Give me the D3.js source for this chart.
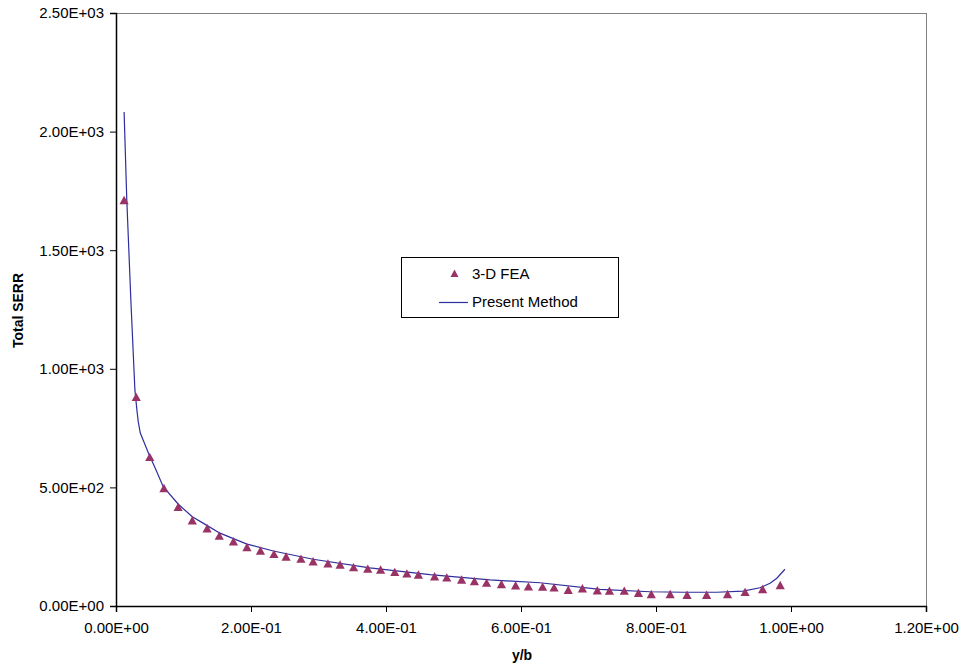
<!DOCTYPE html>
<html>
<head>
<meta charset="utf-8">
<script src="https://cdn.jsdelivr.net/npm/d3@7/dist/d3.min.js"></script>
<style>
  html, body { margin: 0; padding: 0; background: #fff; }
  svg { display: block; font-family: "Liberation Sans", Arial, sans-serif; }
</style>
</head>
<body>
<svg id="chart" width="963" height="670"></svg>
<script>
// 3-D FEA results (normalised position y/b, total SERR)
const feaX = [0.012, 0.030, 0.050, 0.071, 0.092, 0.113, 0.135, 0.153, 0.174, 0.194,
              0.214, 0.234, 0.252, 0.274, 0.292, 0.314, 0.332, 0.352, 0.373, 0.392,
              0.413, 0.431, 0.448, 0.472, 0.490, 0.512, 0.531, 0.549, 0.571, 0.592,
              0.611, 0.632, 0.649, 0.670, 0.691, 0.713, 0.731, 0.753, 0.774, 0.793,
              0.821, 0.846, 0.875, 0.906, 0.932, 0.958, 0.984];
const feaY = [1710, 880, 627, 496, 416, 360, 326, 295, 271, 247,
              232, 218, 207, 198, 187, 178, 173, 162, 156, 152,
              142, 136, 131, 124, 119, 110, 104, 97, 91, 86,
              81, 80, 77, 67, 73, 65, 63, 63, 54, 49,
              49, 46, 46, 49, 58, 70, 87];

// Present method curve
const methodX = [0.012, 0.016, 0.022, 0.028, 0.031, 0.033, 0.036, 0.042, 0.048, 0.058,
                 0.070, 0.092, 0.113, 0.134, 0.154, 0.194, 0.233, 0.292, 0.376, 0.465,
                 0.554, 0.628, 0.717, 0.791, 0.840, 0.890, 0.929, 0.954, 0.969, 0.979, 0.991];
const methodY = [2083, 1712, 1290, 911, 826, 776, 729, 687, 645, 582,
                 503, 430, 376, 341, 307, 261, 232, 197, 161, 132,
                 110, 98, 70, 60, 58, 58, 63, 77, 96, 117, 155];

const xTicks = [0, 0.2, 0.4, 0.6, 0.8, 1.0, 1.2];
const yTicks = [0, 500, 1000, 1500, 2000, 2500];

const seriesNames = ["3-D FEA", "Present Method"];
const xTitle = "y/b";
const yTitle = "Total SERR";

// Excel-style scientific notation, e.g. 2.50E+03, 2.00E-01
function sci(v) {
  if (v === 0) return "0.00E+00";
  const e = Math.floor(Math.log10(Math.abs(v)));
  const m = v / Math.pow(10, e);
  const sign = e < 0 ? "-" : "+";
  const ea = String(Math.abs(e)).padStart(2, "0");
  return m.toFixed(2) + "E" + sign + ea;
}

const svg = d3.select("#chart");
const plot = { left: 116, top: 13, right: 926, bottom: 606 };

const x = d3.scaleLinear().domain([0, 1.2]).range([plot.left, plot.right]);
const y = d3.scaleLinear().domain([0, 2500]).range([plot.bottom, plot.top]);

const fontSize = 15;

// frame: grey top and right edges
svg.append("line").attr("x1", plot.left).attr("x2", plot.right)
  .attr("y1", plot.top + 0.5).attr("y2", plot.top + 0.5)
  .attr("stroke", "#808080").attr("stroke-width", 1);
svg.append("line").attr("x1", plot.right + 0.5).attr("x2", plot.right + 0.5)
  .attr("y1", plot.top).attr("y2", plot.bottom)
  .attr("stroke", "#808080").attr("stroke-width", 1);

// y axis
const yAxis = d3.axisLeft(y).tickValues(yTicks).tickFormat(sci).tickSize(6).tickPadding(6);
const gy = svg.append("g").attr("transform", `translate(${plot.left},0)`).call(yAxis);
gy.select(".domain").attr("stroke", "#000").attr("stroke-width", 1.5);
gy.selectAll(".tick line").attr("stroke", "#000");
gy.selectAll(".tick text").attr("font-size", fontSize)
  .attr("font-family", "Liberation Sans, Arial, sans-serif").attr("fill", "#000");

// x axis
const xAxis = d3.axisBottom(x).tickValues(xTicks).tickFormat(sci).tickSize(6).tickPadding(10);
const gx = svg.append("g").attr("transform", `translate(0,${plot.bottom})`).call(xAxis);
gx.select(".domain").attr("stroke", "#000").attr("stroke-width", 1.5);
gx.selectAll(".tick line").attr("stroke", "#000");
gx.selectAll(".tick text").attr("font-size", fontSize)
  .attr("font-family", "Liberation Sans, Arial, sans-serif").attr("fill", "#000");

// axis titles
svg.append("text").attr("x", (plot.left + plot.right) / 2 + 1).attr("y", 660)
  .attr("text-anchor", "middle").attr("font-size", 14).attr("font-weight", "bold")
  .text(xTitle);
svg.append("text")
  .attr("transform", `translate(23,${(plot.top + plot.bottom) / 2 + 1}) rotate(-90)`)
  .attr("text-anchor", "middle").attr("font-size", 14).attr("font-weight", "bold")
  .text(yTitle);

// present method curve
const lineGen = d3.line().x(d => x(d[0])).y(d => y(d[1]));
svg.append("path")
  .datum(d3.zip(methodX, methodY))
  .attr("d", lineGen)
  .attr("fill", "none")
  .attr("stroke", "#2e2e9e")
  .attr("stroke-width", 1.2);

// FEA triangles
const tri = "M0,-4.6L4.6,3.8L-4.6,3.8Z";
const fea = d3.zip(feaX, feaY);
svg.append("g").selectAll("path")
  .data(fea).join("path")
  .attr("d", tri)
  .attr("transform", d => `translate(${x(d[0])},${y(d[1])})`)
  .attr("fill", "#993366");

// legend
const lg = svg.append("g");
lg.append("rect").attr("x", 401.5).attr("y", 257.5).attr("width", 217).attr("height", 60)
  .attr("fill", "#fff").attr("stroke", "#000").attr("stroke-width", 1);
lg.append("path").attr("d", "M0,-4L4,3.5L-4,3.5Z")
  .attr("transform", "translate(454.5,273.5)").attr("fill", "#993366");
lg.append("text").attr("x", 472).attr("y", 273.5).attr("dy", "0.35em")
  .attr("font-size", fontSize).text(seriesNames[0]);
lg.append("line").attr("x1", 439).attr("x2", 468).attr("y1", 302.5).attr("y2", 302.5)
  .attr("stroke", "#2e2e9e").attr("stroke-width", 1.2);
lg.append("text").attr("x", 472).attr("y", 302).attr("dy", "0.35em")
  .attr("font-size", fontSize).text(seriesNames[1]);
</script>
</body>
</html>
